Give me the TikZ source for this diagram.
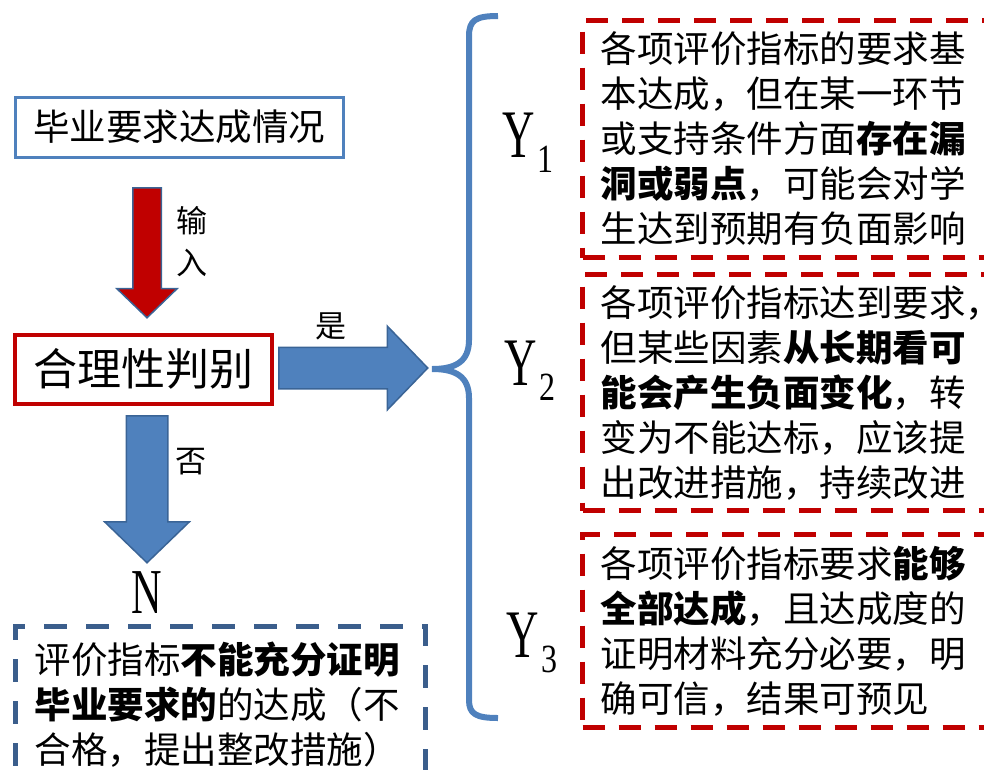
\documentclass[tikz,border=0pt]{standalone}
\usepackage{graphicx}
\usepackage{fontspec}
\newfontfamily\cjk{Noto Sans CJK SC}
\newfontfamily\lserif{Liberation Serif}
\usetikzlibrary{shapes.arrows,positioning}
\definecolor{officeblue}{HTML}{4F81BD}
\definecolor{edgeblue}{HTML}{3A6496}
\definecolor{darkred}{HTML}{C00000}
\definecolor{navydash}{HTML}{3B5E8C}
\newcommand{\narrow}[1]{\scalebox{0.66}[1]{#1}}
\newcommand{\ysub}[1]{\narrow{Y}\kern3pt\raisebox{-15pt}{\fontsize{40}{40}\selectfont\scalebox{0.8}[1]{#1}}}

\begin{document}
\begin{tikzpicture}
[x=1pt, y=-1pt,
every node/.style={inner sep=0pt},
zhtext/.style={font=\fontsize{36.5}{45}\selectfont\cjk},
zhsmall/.style={font=\fontsize{31}{42}\selectfont\cjk, align=center},
redbox/.style={zhtext, draw=darkred, line width=5pt, dash pattern=on 22pt off 14pt,
  align=left, text width=380pt, inner xsep=18pt, anchor=north west},
navybox/.style={zhtext, draw=navydash, line width=5pt, dash pattern=on 23pt off 19pt,
  align=left, text width=372pt, inner xsep=19pt, inner ysep=15pt, anchor=north west},
bigarrow/.style={single arrow, line width=1.5pt, single arrow tip angle=92, anchor=tail},
ylabel/.style={font=\fontsize{68}{68}\selectfont\lserif, anchor=base west},
brace/.style={draw=officeblue, line width=6pt}
]
  \useasboundingbox (0,0) rectangle (984,769);

  % left column
  \node[zhtext, draw=officeblue, line width=3pt, minimum width=328, minimum height=60] (input) at (179,127) {毕业要求达成情况};
  \node[draw=darkred, line width=4pt, minimum width=257, minimum height=69,
        font=\fontsize{44}{44}\selectfont\cjk] (judge) at (143,369) {合理性判别};

  \node[bigarrow, fill=darkred, draw=edgeblue, rotate=-90, minimum height=130,
        inner ysep=13.5, single arrow head extend=16] (inarrow) at (147,187) {};
  \node[zhsmall] (inlabel) at (192,242) {输\\入};

  \node[bigarrow, fill=officeblue, draw=edgeblue, minimum height=149,
        inner ysep=20, single arrow head extend=21] (yesarrow) at (278,368) {};
  \node[zhsmall] (yeslabel) at (331,326) {是};

  \node[bigarrow, fill=officeblue, draw=edgeblue, rotate=-90, minimum height=147,
        inner ysep=20, single arrow head extend=21.5] (noarrow) at (147,415) {};
  \node[zhsmall] (nolabel) at (191,462) {否};

  \node[font=\fontsize{64}{64}\selectfont\lserif, anchor=base] (nlabel) at (147,613) {\narrow{N}};
  \node[navybox] (nbox) at (13,624)
    {评价指标\textbf{不能充分证明}\\\textbf{毕业要求的}的达成（不\\合格，提出整改措施）};

  % brace
  \draw[brace] (498,16) .. controls (476,16) and (469,20) .. (469,36)
    -- (469,340) .. controls (469,362) and (455,369) .. (432,369)
    .. controls (455,369) and (469,376) .. (469,398)
    -- (469,700) .. controls (469,714) and (476,718) .. (498,718);

  % right column
  \node[ylabel] (yone) at (502,157) {\ysub{1}};
  \node[ylabel] (ytwo) at (504,385) {\ysub{2}};
  \node[ylabel] (ythree) at (506,657) {\ysub{3}};

  \node[redbox, minimum height=237] (boxone) at (580,18)
    {各项评价指标的要求基\\本达成，但在某一环节\\或支持条件方面\textbf{存在漏}\\\textbf{洞或弱点}，可能会对学\\生达到预期有负面影响};
  \node[redbox, minimum height=236] (boxtwo) at (580,272)
    {各项评价指标达到要求，\\但某些因素\textbf{从长期看可}\\\textbf{能会产生负面变化}，转\\变为不能达标，应该提\\出改进措施，持续改进};
  \node[redbox, minimum height=193] (boxthree) at (580,532)
    {各项评价指标要求\textbf{能够}\\\textbf{全部达成}，且达成度的\\证明材料充分必要，明\\确可信，结果可预见};
\end{tikzpicture}
\end{document}
